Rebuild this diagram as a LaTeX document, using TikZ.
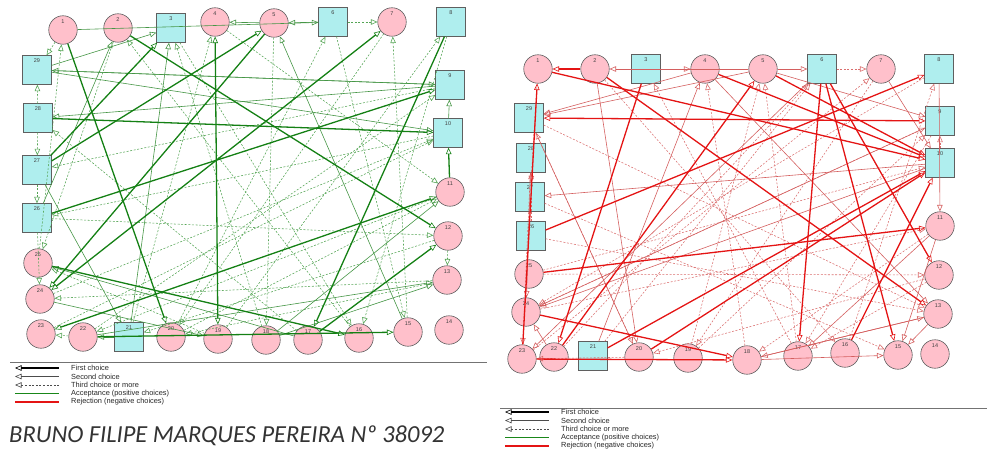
\documentclass[tikz,border=0pt]{standalone}
\usepackage{fontspec}
\setmainfont{Liberation Sans}
\newfontfamily\titlefont{Carlito}
\usetikzlibrary{arrows.meta}
\definecolor{nodepink}{RGB}{255,192,203}
\definecolor{nodecyan}{RGB}{175,238,238}
\definecolor{nodeline}{RGB}{95,95,95}
\definecolor{accA}{RGB}{20,128,20}
\definecolor{accB}{RGB}{70,150,70}
\definecolor{accC}{RGB}{85,165,85}
\definecolor{rejA}{RGB}{228,20,20}
\definecolor{rejB}{RGB}{212,95,95}
\definecolor{rejC}{RGB}{218,110,110}
\definecolor{legG}{RGB}{25,135,25}
\begin{document}
\begin{tikzpicture}[x=1pt,y=-1pt,
  otri/.tip={Triangle[open,length=6.5pt,width=5.5pt,line width=0.6pt]},
  nlabel/.style={font=\fontsize{5.5}{6}\selectfont,text=black!75,inner sep=0pt,anchor=north},
  pc/.style={circle,draw=nodeline,line width=0.6pt,fill=nodepink,minimum size=28.5pt,inner sep=0pt,
    label={[nlabel,yshift=-4.5pt]north:#1}},
  sq/.style={rectangle,draw=nodeline,line width=0.8pt,fill=nodecyan,minimum size=28.5pt,inner sep=0pt,
    label={[nlabel,yshift=-3.5pt]north:#1}},
  acc1/.style={accA,line width=1.3pt,-otri},
  acc1b/.style={accA,line width=1.3pt,otri-otri},
  acc2/.style={accB,line width=0.6pt,-otri},
  acc3/.style={accC,line width=0.55pt,dash pattern=on 2pt off 1.6pt,-otri},
  rej1/.style={rejA,line width=1.3pt,-otri},
  rej1b/.style={rejA,line width=1.3pt,otri-otri},
  rej2/.style={rejB,line width=0.6pt,-otri},
  rej3/.style={rejC,line width=0.55pt,dash pattern=on 2pt off 1.6pt,-otri},
  legtext/.style={font=\fontsize{7.4}{8}\selectfont,text=black!85,anchor=west,inner sep=0pt},
  legline/.style={line width=0.8pt,draw=black!55},
  keyfirst/.style={draw=black,line width=1.3pt,otri-},
  keysecond/.style={draw=black!70,line width=0.6pt,otri-},
  keythird/.style={draw=black!70,line width=0.55pt,dash pattern=on 2pt off 1.6pt,otri-},
  keyacc/.style={draw=legG,line width=1.4pt},
  keyrej/.style={draw=rejA,line width=1.4pt},
]
\useasboundingbox (0,0) rectangle (987,449);

% ---------- acceptance sociogram ----------
\node[pc=1]  (l1)  at (63,30)  {};
\node[pc=2]  (l2)  at (118,28) {};
\node[sq=3]  (l3)  at (171,28) {};
\node[pc=4]  (l4)  at (215,22) {};
\node[pc=5]  (l5)  at (274,23) {};
\node[sq=6]  (l6)  at (333,22) {};
\node[pc=7]  (l7)  at (392,22) {};
\node[sq=8]  (l8)  at (451,22) {};
\node[sq=9]  (l9)  at (450,85) {};
\node[sq=10] (l10) at (448,133) {};
\node[pc=11] (l11) at (450,192) {};
\node[pc=12] (l12) at (448,236) {};
\node[pc=13] (l13) at (447,280) {};
\node[pc=14] (l14) at (449,330) {};
\node[pc=15] (l15) at (408,332) {};
\node[pc=16] (l16) at (359,338) {};
\node[pc=17] (l17) at (308,340) {};
\node[pc=18] (l18) at (266,340) {};
\node[pc=19] (l19) at (218,339) {};
\node[pc=20] (l20) at (171,337) {};
\node[sq=21] (l21) at (129,337) {};
\node[pc=22] (l22) at (83,337) {};
\node[pc=23] (l23) at (41,334) {};
\node[pc=24] (l24) at (40,299) {};
\node[pc=25] (l25) at (38,263) {};
\node[sq=26] (l26) at (37,218) {};
\node[sq=27] (l27) at (37,170) {};
\node[sq=28] (l28) at (38,118) {};
\node[sq=29] (l29) at (37,70) {};

\foreach \a/\b in {l28/l29,l28/l27,l27/l26,l26/l24,l26/l12,l6/l7,l15/l7,l25/l1,l20/l6,l19/l8,
  l22/l9,l23/l10,l24/l10,l21/l4,l18/l3,l13/l24,l12/l21,l11/l22,l4/l11,l10/l26,l8/l16,l6/l15,
  l22/l23,l1/l29,l12/l13,l16/l2,l19/l25,l20/l11,l17/l28,l7/l20,l3/l16,l9/l27,l2/l25,l5/l18,l13/l20}
  \draw[acc3] (\a) -- (\b);
\foreach \a/\b in {l9/l29,l29/l9,l29/l10,l9/l28,l29/l3,l21/l3,l26/l2,l17/l25,l24/l19,l21/l22,
  l27/l21,l10/l9,l22/l13,l18/l13,l18/l11,l6/l5,l5/l4,l1/l6,l15/l5}
  \draw[acc2] (\a) -- (\b);
\foreach \a/\b in {l1/l20,l2/l12,l28/l10,l27/l3,l26/l9,l5/l24,l8/l17,l17/l12,l25/l16,l22/l15,
  l11/l10,l27/l5}
  \draw[acc1] (\a) -- (\b);
\foreach \a/\b in {l24/l7,l4/l19,l23/l11}
  \draw[acc1b] (\a) -- (\b);

% ---------- rejection sociogram ----------
\node[pc=1]  (r1)  at (538,69)  {};
\node[pc=2]  (r2)  at (595,69)  {};
\node[sq=3]  (r3)  at (646,69)  {};
\node[pc=4]  (r4)  at (705,69)  {};
\node[pc=5]  (r5)  at (763,69)  {};
\node[sq=6]  (r6)  at (822,69)  {};
\node[pc=7]  (r7)  at (881,69)  {};
\node[sq=8]  (r8)  at (939,69)  {};
\node[sq=9]  (r9)  at (940,121) {};
\node[sq=10] (r10) at (940,163) {};
\node[pc=11] (r11) at (940,226) {};
\node[pc=12] (r12) at (939,275) {};
\node[pc=13] (r13) at (938,314) {};
\node[pc=14] (r14) at (935,354) {};
\node[pc=15] (r15) at (898,355) {};
\node[pc=16] (r16) at (845,353) {};
\node[pc=17] (r17) at (798,356) {};
\node[pc=18] (r18) at (747,360) {};
\node[pc=19] (r19) at (688,358) {};
\node[pc=20] (r20) at (639,357) {};
\node[sq=21] (r21) at (593,356) {};
\node[pc=22] (r22) at (554,357) {};
\node[pc=23] (r23) at (522,359) {};
\node[pc=24] (r24) at (526,312) {};
\node[pc=25] (r25) at (529,274) {};
\node[sq=26] (r26) at (531,236) {};
\node[sq=27] (r27) at (530,197) {};
\node[sq=28] (r28) at (531,158) {};
\node[sq=29] (r29) at (529,118) {};

\foreach \a/\b in {r3/r4,r6/r7,r10/r9,r28/r23,r29/r13,r27/r15,r25/r10,r24/r9,r21/r6,r19/r5,
  r18/r4,r17/r3,r16/r8,r26/r13,r25/r12,r24/r11,r23/r7,r20/r29,r12/r20,r1/r27,r11/r18,r9/r17,
  r7/r19,r2/r16,r20/r23,r22/r6,r19/r9,r17/r5,r26/r28,r8/r24,r12/r17}
  \draw[rej3] (\a) -- (\b);
\foreach \a/\b in {r4/r29,r5/r29,r5/r2,r5/r6,r2/r20,r29/r20,r10/r27,r10/r24,r9/r24,r13/r18,
  r18/r13,r18/r15,r28/r24,r5/r9,r11/r17,r21/r4,r8/r11,r7/r10,r13/r15,r11/r15,r6/r23,r22/r24,
  r4/r13}
  \draw[rej2] (\a) -- (\b);
\foreach \a/\b in {r2/r1,r3/r22,r23/r1,r1/r10,r2/r13,r25/r11,r26/r8,r24/r18,r21/r10,r20/r10,
  r23/r18,r22/r5,r4/r10,r5/r10,r6/r17,r6/r15,r6/r12,r16/r10}
  \draw[rej1] (\a) -- (\b);
\draw[rej1b] (r29) -- (r9);

% ---------- separators ----------
\coordinate (sepLa) at (10,362);  \coordinate (sepLb) at (487,362);
\draw[legline] (sepLa) -- (sepLb);
\coordinate (sepRa) at (500,408); \coordinate (sepRb) at (987,408);
\draw[legline] (sepRa) -- (sepRb);

% ---------- key under the acceptance sociogram ----------
\coordinate (kLa1) at (15,368);   \coordinate (kLb1) at (59,368);
\coordinate (kLa2) at (15,376.5); \coordinate (kLb2) at (59,376.5);
\coordinate (kLa3) at (15,385);   \coordinate (kLb3) at (59,385);
\coordinate (kLa4) at (15,393.5); \coordinate (kLb4) at (59,393.5);
\coordinate (kLa5) at (15,402);   \coordinate (kLb5) at (59,402);
\draw[keyfirst]  (kLa1) -- (kLb1);
\draw[keysecond] (kLa2) -- (kLb2);
\draw[keythird]  (kLa3) -- (kLb3);
\draw[keyacc]    (kLa4) -- (kLb4);
\draw[keyrej]    (kLa5) -- (kLb5);
\node[legtext] (kLt1) at (71,368)   {First choice};
\node[legtext] (kLt2) at (71,376.5) {Second choice};
\node[legtext] (kLt3) at (71,385)   {Third choice or more};
\node[legtext] (kLt4) at (71,393.5) {Acceptance (positive choices)};
\node[legtext] (kLt5) at (71,402)   {Rejection (negative choices)};

% ---------- key under the rejection sociogram ----------
\coordinate (kRa1) at (505,412);   \coordinate (kRb1) at (549,412);
\coordinate (kRa2) at (505,420.5); \coordinate (kRb2) at (549,420.5);
\coordinate (kRa3) at (505,429);   \coordinate (kRb3) at (549,429);
\coordinate (kRa4) at (505,437.5); \coordinate (kRb4) at (549,437.5);
\coordinate (kRa5) at (505,446);   \coordinate (kRb5) at (549,446);
\draw[keyfirst]  (kRa1) -- (kRb1);
\draw[keysecond] (kRa2) -- (kRb2);
\draw[keythird]  (kRa3) -- (kRb3);
\draw[keyacc]    (kRa4) -- (kRb4);
\draw[keyrej]    (kRa5) -- (kRb5);
\node[legtext] (kRt1) at (561,412)   {First choice};
\node[legtext] (kRt2) at (561,420.5) {Second choice};
\node[legtext] (kRt3) at (561,429)   {Third choice or more};
\node[legtext] (kRt4) at (561,437.5) {Acceptance (positive choices)};
\node[legtext] (kRt5) at (561,446)   {Rejection (negative choices)};

\node[anchor=base west,inner sep=0pt,text=black!80,
  font=\titlefont\itshape\fontsize{24.5}{25}\selectfont] (title) at (9,442)
  {BRUNO FILIPE MARQUES PEREIRA Nº 38092};
\end{tikzpicture}
\end{document}
